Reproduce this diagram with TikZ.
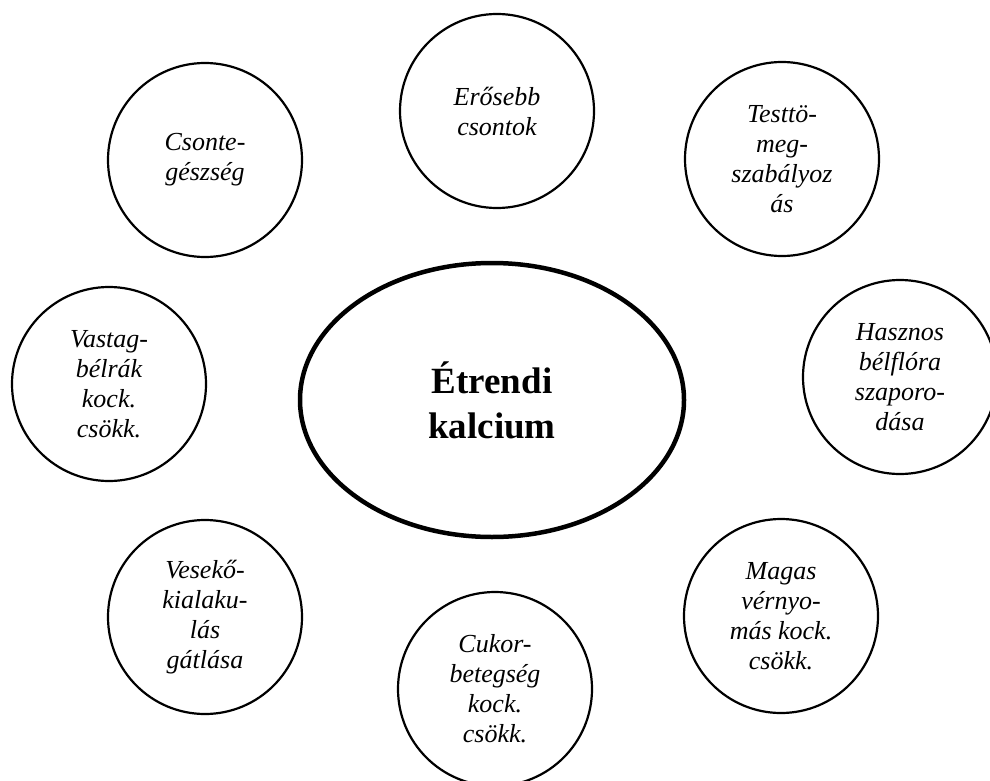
\documentclass[tikz,border=0pt]{standalone}
\usepackage{fontspec}
\setmainfont{Liberation Serif}
\usetikzlibrary{shapes.geometric}
\begin{document}
\begin{tikzpicture}[x=1pt,y=-1pt,
  benefit/.style={circle, draw, line width=2.2pt, minimum size=194pt,
    inner sep=0pt, align=center,
    font=\fontsize{26}{30}\selectfont\itshape},
  core/.style={ellipse, draw, line width=4.5pt, minimum width=384pt,
    minimum height=274pt, inner sep=0pt, align=center,
    font=\fontsize{37}{45}\selectfont\bfseries}]
\useasboundingbox[fill=white] (0,0) rectangle (990,781);

% central topic
\node[core] (calc) at (492,400) {Étrendi\\kalcium};

% effects arranged around it
\node[benefit] (bones)    at (497,111) {Erősebb\\csontok};
\node[benefit] (health)   at (205,160) {Csonte-\\gészség};
\node[benefit] (weight)   at (782,159) {Testtö-\\meg-\\szabályoz\\ás};
\node[benefit] (flora)    at (900,377) {Hasznos\\bélflóra\\szaporo-\\dása};
\node[benefit] (colon)    at (109,384) {Vastag-\\bélrák\\kock.\\csökk.};
\node[benefit] (kidney)   at (205,617) {Vesekő-\\kialaku-\\lás\\gátlása};
\node[benefit] (diabetes) at (495,689) {Cukor-\\betegség\\kock.\\csökk.};
\node[benefit] (pressure) at (781,616) {Magas\\vérnyo-\\más kock.\\csökk.};
\end{tikzpicture}
\end{document}
